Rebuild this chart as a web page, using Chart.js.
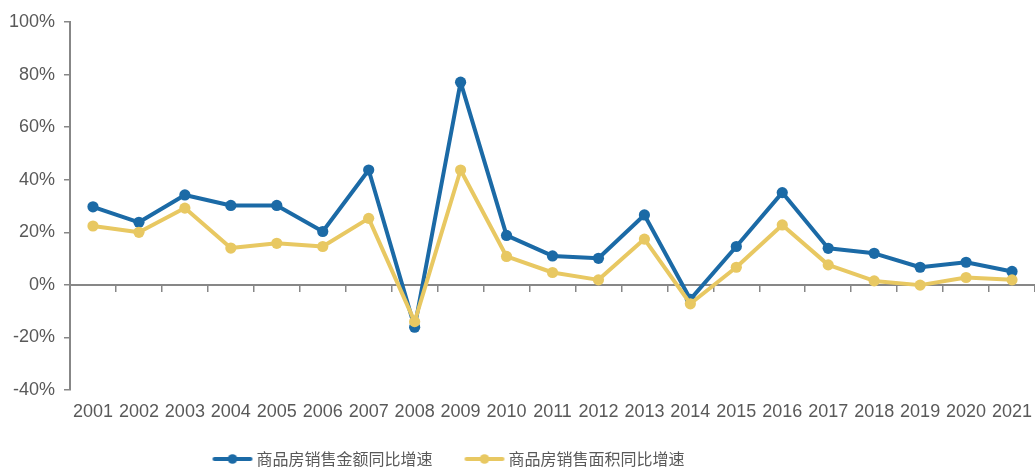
<!DOCTYPE html>
<html><head><meta charset="utf-8">
<script src="https://cdn.jsdelivr.net/npm/chart.js@4"></script>
<style>html,body{margin:0;padding:0;background:#fff}#wrap{width:1035px;height:470px}</style>
</head><body><div id="wrap"><canvas id="c" width="1035" height="470"></canvas></div>
<script>
const years = ['2001','2002','2003','2004','2005','2006','2007','2008','2009','2010','2011','2012','2013','2014','2015','2016','2017','2018','2019','2020','2021'];
const salesAmountGrowth = [29.7, 23.8, 34.2, 30.2, 30.2, 20.3, 43.7, -16.1, 77.1, 18.8, 11.0, 10.1, 26.6, -5.5, 14.6, 35.1, 13.9, 12.0, 6.7, 8.6, 5.1];
const salesAreaGrowth   = [22.4, 20.0, 29.2, 14.0, 15.8, 14.6, 25.3, -14.0, 43.7, 10.8, 4.7, 1.9, 17.4, -7.2, 6.7, 22.8, 7.6, 1.5, -0.1, 2.8, 1.9];
const seriesNames = ['商品房销售金额同比增速', '商品房销售面积同比增速'];
const seriesColors = ['#1b6aa6', '#e8c862'];
const yMin = -40, yMax = 100, yStep = 20;

const FONT = "'Liberation Sans', Arial, 'Noto Sans CJK SC', sans-serif";
const CJK_FONT = "'Noto Sans CJK SC', 'Noto Sans CJK JP', sans-serif";
const AXIS = '#878787';
const TEXT = '#595959';

function legendImage(color) {
  const cv = document.createElement('canvas');
  cv.width = 82; cv.height = 12;
  const g = cv.getContext('2d');
  g.strokeStyle = color; g.lineWidth = 4; g.lineCap = 'round';
  g.beginPath(); g.moveTo(41, 6); g.lineTo(77, 6); g.stroke();
  g.fillStyle = color;
  g.beginPath(); g.arc(59, 6, 4.8, 0, Math.PI * 2); g.fill();
  return cv;
}
const legendImgs = seriesColors.map(legendImage);

const legendShift = {
  id: 'legendShift',
  afterLayout(chart) {
    const lg = chart.legend; if (!lg) return;
    lg.left -= 85; lg.right -= 85; lg.top += 7; lg.bottom += 7;
  }
};

new Chart(document.getElementById('c'), {
  type: 'line',
  data: {
    labels: years,
    datasets: [
      { label: seriesNames[0], data: salesAmountGrowth, borderColor: seriesColors[0], backgroundColor: seriesColors[0],
        borderWidth: 4, borderJoinStyle: 'round', borderCapStyle: 'round',
        pointRadius: 5.6, pointHoverRadius: 5.6, pointBorderWidth: 0, tension: 0, order: 1, clip: false },
      { label: seriesNames[1], data: salesAreaGrowth, borderColor: seriesColors[1], backgroundColor: seriesColors[1],
        borderWidth: 4, borderJoinStyle: 'round', borderCapStyle: 'round',
        pointRadius: 5.6, pointHoverRadius: 5.6, pointBorderWidth: 0, tension: 0, order: 0, clip: false }
    ]
  },
  options: {
    responsive: false, animation: false, devicePixelRatio: 1,
    layout: { autoPadding: false, padding: { top: 22, right: 0, left: 0, bottom: 0 } },
    scales: {
      x: {
        type: 'category', position: { y: 0 }, offset: true,
        grid: { display: true, offset: true, drawOnChartArea: false, drawTicks: true, tickLength: 6, color: AXIS, lineWidth: 1.5 },
        border: { display: true, color: AXIS, width: 2 },
        ticks: { display: false },
        afterFit(s) { s.paddingLeft = 0; s.paddingRight = 0; }
      },
      x2: {
        type: 'category', axis: 'x', position: 'bottom', offset: true,
        grid: { display: false, drawTicks: false }, border: { display: false },
        ticks: { color: TEXT, font: { family: FONT, size: 18 }, padding: 11, maxRotation: 0, autoSkip: false },
        afterFit(s) { s.height = 54; s.paddingLeft = 0; s.paddingRight = 0; }
      },
      y: {
        min: yMin, max: yMax,
        grid: { display: true, drawOnChartArea: false, drawTicks: true, tickLength: 6, color: AXIS, lineWidth: 1.5 },
        border: { display: true, color: AXIS, width: 2 },
        ticks: { stepSize: yStep, color: TEXT, font: { family: FONT, size: 18 }, padding: 9, callback: v => v + '%' },
        afterFit(s) { s.width = 70; }
      }
    },
    plugins: {
      tooltip: { enabled: false },
      legend: {
        position: 'bottom', align: 'center',
        labels: {
          usePointStyle: true, pointStyleWidth: 68, boxHeight: 12, padding: 0,
          color: TEXT, font: { family: CJK_FONT, size: 16 },
          generateLabels(chart) {
            return chart.data.datasets.map((d, i) => ({
              text: d.label, fillStyle: d.borderColor, strokeStyle: d.borderColor, fontColor: TEXT,
              lineWidth: 0, pointStyle: legendImgs[i], hidden: false, datasetIndex: i
            }));
          }
        }
      }
    }
  },
  plugins: [legendShift]
});
</script></body></html>
